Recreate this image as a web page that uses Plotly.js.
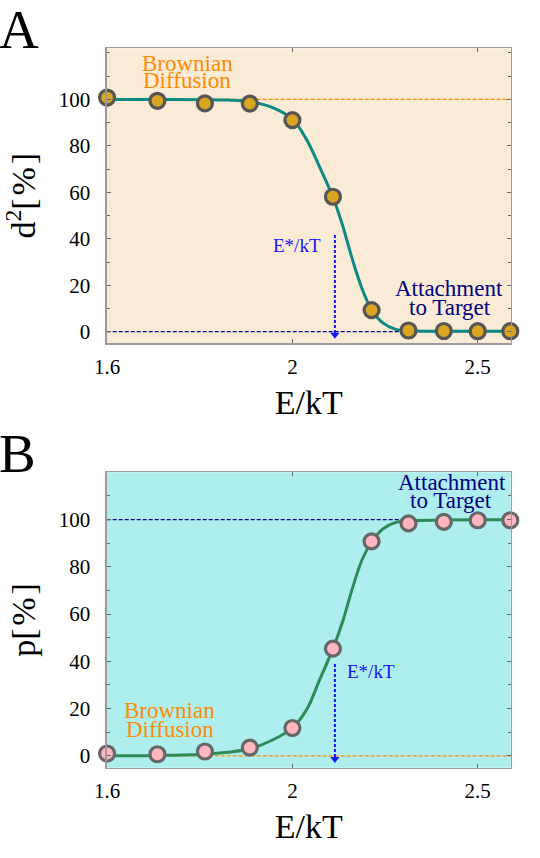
<!DOCTYPE html>
<html>
<head>
<meta charset="utf-8">
<script src="https://cdn.plot.ly/plotly-3.0.1.min.js"></script>
<style>
  html, body { margin: 0; padding: 0; background: #ffffff; }
  #chart { width: 540px; height: 858px; }
</style>
</head>
<body>
<div id="chart"></div>
<script>
// ---------- data ----------
const energy = [1.6, 1.7, 1.8, 1.9, 2.0, 2.1, 2.2, 2.3, 2.4, 2.5, 2.6];
const d2Percent = [100.8, 99.4, 98.3, 98.2, 91.1, 58.1, 9.3, 0.5, 0.3, 0.2, 0.2];
const pPercent = [1.0, 0.7, 1.85, 3.5, 11.8, 45.4, 90.8, 98.4, 99.0, 99.7, 99.7];

// fitted curves
const curveEnergy = [1.6, 1.7, 1.8, 1.85, 1.9, 1.95, 2.0, 2.035, 2.065, 2.1, 2.125, 2.15, 2.175, 2.2, 2.23, 2.265, 2.3, 2.4, 2.5, 2.6];
const d2Curve = [100, 100, 99.9, 99.7, 99.0, 96.7, 91.5, 82.5, 71.5, 58, 45.5, 31, 18.5, 9.5, 3.8, 1.0, 0.4, 0.2, 0.2, 0.2];
const pCurve  = [0.1, 0.2, 0.7, 1.5, 3.0, 6.5, 11.8, 19.7, 31.5, 45.4, 57, 71, 83, 90.5, 96, 98.8, 99.5, 99.8, 99.9, 99.9];

// critical energy and reference levels
const eStar = 2.105;
const arrowTopA = 41.6, arrowTopB = 38.9, arrowTip = -2.5;
const levelHigh = 100, levelLow = 0;

const xTickVals = [1.6, 2, 2.5];
const xTickText = ['1.6', '2', '2.5'];
const yTickVals = [0, 20, 40, 60, 80, 100];
const yTickText = ['0', '20', '40', '60', '80', '100'];

// ---------- styles ----------
const SERIF = 'Liberation Serif, Times New Roman, serif';
const ORANGE = '#FF8C00';
const NAVY = '#000080';
const BLUE = '#1515F5';
const L10 = Math.log10;

const xAxisBase = {
  type: 'log',
  range: [L10(1.6) - 0.0002, L10(2.6) + 0.0002],
  domain: [106.7 / 540, 510.7 / 540],
  tickmode: 'array', tickvals: xTickVals, ticktext: xTickText,
  ticks: 'inside', ticklen: 4, tickcolor: '#666', tickwidth: 1,
  showline: true, linecolor: '#9a9a9a', linewidth: 1.3, mirror: 'ticks',
  showgrid: false, zeroline: false,
  ticklabelstandoff: 4,
  tickfont: { family: SERIF, size: 21, color: '#000' },
  title: { text: 'E/kT', font: { family: SERIF, size: 34, color: '#000' }, standoff: 12 }
};
function yAxis(range, domain, title) {
  return {
    range: range, domain: domain,
    tickmode: 'array', tickvals: yTickVals, ticktext: yTickText,
    ticks: 'inside', ticklen: 4, tickcolor: '#666', tickwidth: 1,
    minor: { tickmode: 'linear', tick0: 0, dtick: 10, ticks: 'inside', ticklen: 3, tickcolor: '#666' },
    showline: true, linecolor: '#9a9a9a', linewidth: 1.3, mirror: 'ticks',
    showgrid: false, zeroline: false,
    ticklabelstandoff: 11,
    tickfont: { family: SERIF, size: 21, color: '#000' },
    title: { text: title, font: { family: SERIF, size: 34, color: '#000' }, standoff: 12 }
  };
}

const traces = [
  // Panel A
  { x: curveEnergy, y: d2Curve, xaxis: 'x', yaxis: 'y', mode: 'lines',
    line: { color: '#0B8A84', width: 3, shape: 'spline', smoothing: 1 }, hoverinfo: 'skip' },
  { x: [eStar, eStar], y: [arrowTopA, arrowTip + 1.5], xaxis: 'x', yaxis: 'y', mode: 'lines',
    line: { color: BLUE, width: 2, dash: '3px,2px' }, hoverinfo: 'skip' },
  { x: [eStar], y: [arrowTip + 1.2], xaxis: 'x', yaxis: 'y', mode: 'markers', cliponaxis: false,
    marker: { symbol: 'triangle-down', size: 8, color: BLUE }, hoverinfo: 'skip' },
  { x: energy, y: d2Percent, xaxis: 'x', yaxis: 'y', mode: 'markers', cliponaxis: false,
    marker: { size: 15, color: '#DAA520', line: { color: '#555555', width: 3.2 } } },
  // Panel B
  { x: curveEnergy, y: pCurve, xaxis: 'x2', yaxis: 'y2', mode: 'lines',
    line: { color: '#2E8B57', width: 3, shape: 'spline', smoothing: 1 }, hoverinfo: 'skip' },
  { x: [eStar, eStar], y: [arrowTopB, arrowTip + 1.5], xaxis: 'x2', yaxis: 'y2', mode: 'lines',
    line: { color: BLUE, width: 2, dash: '3px,2px' }, hoverinfo: 'skip' },
  { x: [eStar], y: [arrowTip + 1.2], xaxis: 'x2', yaxis: 'y2', mode: 'markers', cliponaxis: false,
    marker: { symbol: 'triangle-down', size: 8, color: BLUE }, hoverinfo: 'skip' },
  { x: energy, y: pPercent, xaxis: 'x2', yaxis: 'y2', mode: 'markers', cliponaxis: false,
    marker: { size: 15, color: '#FFB6C1', line: { color: '#666666', width: 3.2 } } }
];

function txt(xref, yref, xv, yv, text, color, size, extra) {
  return Object.assign({ xref: xref, yref: yref, x: L10(xv), y: yv, text: text, showarrow: false,
    font: { family: SERIF, size: size, color: color }, xanchor: 'center', yanchor: 'middle' }, extra || {});
}

const annotations = [
  // panel letters
  { xref: 'paper', yref: 'paper', x: 19.5 / 540, y: 1 - 29 / 858, text: 'A', showarrow: false,
    font: { family: SERIF, size: 55, color: '#000' }, xanchor: 'center', yanchor: 'middle' },
  { xref: 'paper', yref: 'paper', x: 17.5 / 540, y: 1 - 453 / 858, text: 'B', showarrow: false,
    font: { family: SERIF, size: 55, color: '#000' }, xanchor: 'center', yanchor: 'middle' },
  // panel A labels
  txt('x', 'y', 1.762, 115.5, 'Brownian', ORANGE, 23),
  txt('x', 'y', 1.762, 108.0, 'Diffusion', ORANGE, 23),
  txt('x', 'y', 2.415, 18.8, 'Attachment', NAVY, 23),
  txt('x', 'y', 2.417, 10.5, 'to Target', NAVY, 23),
  txt('x', 'y', 2.076, 37.3, 'E*/kT', BLUE, 19, { xanchor: 'right' }),
  // panel B labels
  txt('x2', 'y2', 1.725, 19.0, 'Brownian', ORANGE, 23),
  txt('x2', 'y2', 1.725, 11.0, 'Diffusion', ORANGE, 23),
  txt('x2', 'y2', 2.424, 115.6, 'Attachment', NAVY, 23),
  txt('x2', 'y2', 2.421, 108.2, 'to Target', NAVY, 23),
  txt('x2', 'y2', 2.13, 35.6, 'E*/kT', BLUE, 19, { xanchor: 'left' })
];

function hline(xref, yref, yv, color) {
  return { type: 'line', layer: 'below', xref: xref + ' domain', yref: yref, x0: 0, x1: 1, y0: yv, y1: yv,
    line: { color: color, width: 1.3, dash: '4px,2px' } };
}
const shapes = [
  { type: 'rect', layer: 'below', xref: 'x domain', yref: 'y domain', x0: 0, x1: 1, y0: 0, y1: 1,
    fillcolor: '#FAEBD7', line: { width: 0 } },
  { type: 'rect', layer: 'below', xref: 'x2 domain', yref: 'y2 domain', x0: 0, x1: 1, y0: 0, y1: 1,
    fillcolor: '#AFEEEE', line: { width: 0 } },
  hline('x', 'y', levelHigh, ORANGE),
  hline('x', 'y', levelLow, NAVY),
  hline('x2', 'y2', levelHigh, NAVY),
  hline('x2', 'y2', levelLow, ORANGE)
];

const layout = {
  width: 540, height: 858,
  margin: { l: 0, r: 0, t: 0, b: 0 },
  paper_bgcolor: '#ffffff', plot_bgcolor: 'rgba(0,0,0,0)',
  showlegend: false,
  xaxis: Object.assign({}, xAxisBase, { anchor: 'y' }),
  yaxis: yAxis([-5, 122], [1 - 343.3 / 858, 1 - 48.3 / 858], 'd<sup>2</sup>[\u200A%\u200A]'),
  xaxis2: Object.assign({}, xAxisBase, { anchor: 'y2' }),
  yaxis2: yAxis([-5, 120], [1 - 767.7 / 858, 1 - 472.3 / 858], 'p[\u200A%\u200A]'),
  annotations: annotations,
  shapes: shapes
};
layout.yaxis.anchor = 'x';
layout.yaxis2.anchor = 'x2';

Plotly.newPlot('chart', traces, layout, { displayModeBar: false, staticPlot: true });
</script>
</body>
</html>
